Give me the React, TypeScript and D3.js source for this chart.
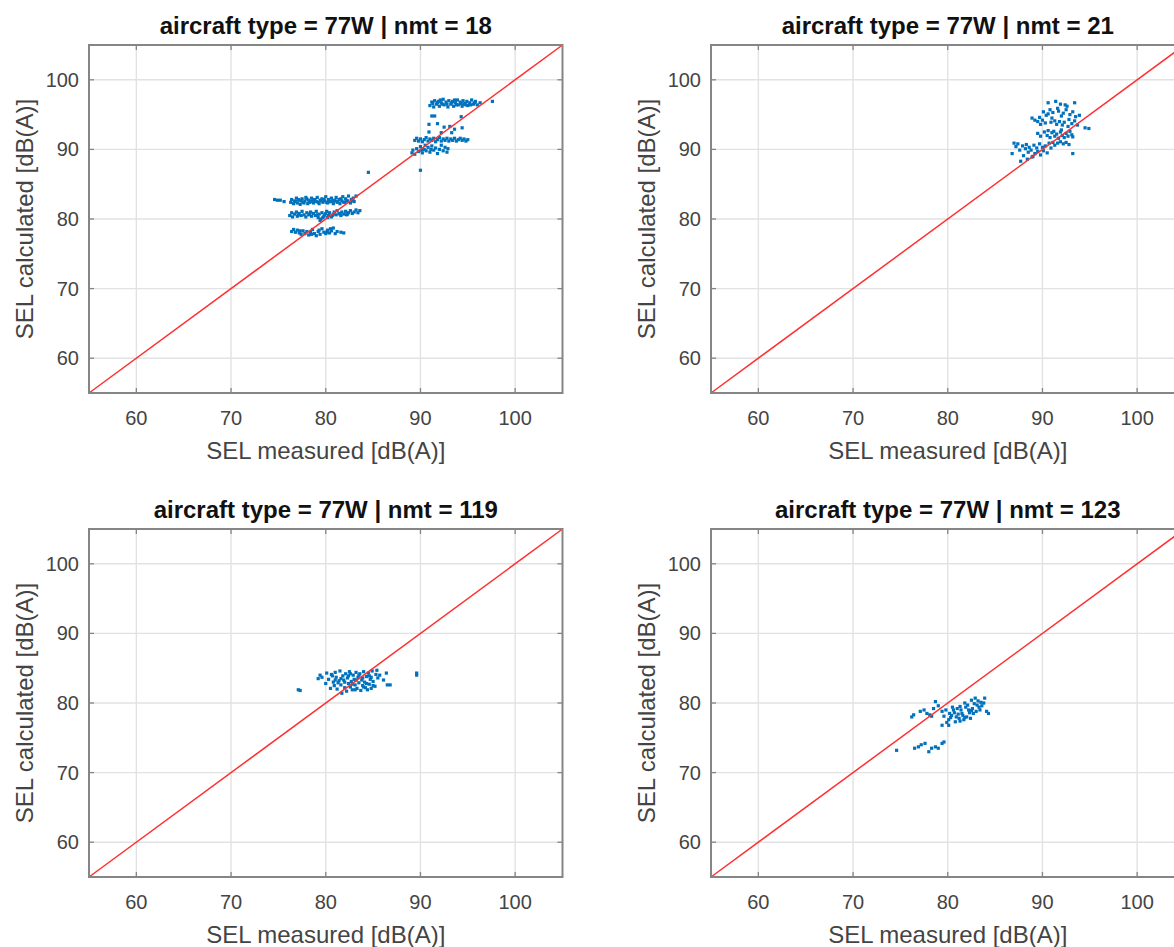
import React from "react";
import * as d3 from "d3";

type Pt = [number, number];

const panelTitles = [
  "aircraft type = 77W | nmt = 18",
  "aircraft type = 77W | nmt = 21",
  "aircraft type = 77W | nmt = 119",
  "aircraft type = 77W | nmt = 123",
];
const xLabel = "SEL measured [dB(A)]";
const yLabel = "SEL calculated [dB(A)]";
const axisDomain: [number, number] = [55, 105];
const tickValues = [60, 70, 80, 90, 100];

const nmt18Points: Pt[] = [
  [74.6, 82.8], [74.9, 82.7], [75.2, 82.7], [75.6, 82.5],
  [76.3, 82.4], [76.4, 82.8], [76.6, 82.2], [76.7, 82.6], [76.9, 83.0], [77.0, 82.3], [77.2, 82.7], [77.3, 82.1],
  [77.5, 82.9], [77.6, 82.4], [77.8, 82.6], [77.9, 83.1], [78.1, 82.2], [78.2, 82.7], [78.4, 82.5], [78.5, 83.0],
  [78.7, 82.3], [78.8, 82.8], [79.0, 82.5], [79.1, 83.1], [79.3, 82.2], [79.4, 82.7], [79.6, 82.9], [79.7, 82.4],
  [79.9, 82.6], [80.0, 83.2], [80.2, 82.3], [80.3, 82.8], [80.5, 82.5], [80.6, 83.0], [80.8, 82.2], [80.9, 82.7],
  [81.1, 83.1], [81.2, 82.4], [81.4, 82.8], [81.5, 82.2], [81.7, 82.6], [81.8, 83.2], [82.0, 82.4], [82.1, 82.9],
  [82.3, 82.6], [82.4, 83.3], [82.6, 82.3], [82.7, 82.8], [82.9, 83.0], [83.0, 82.5], [83.2, 83.3],
  [76.8, 82.5], [77.4, 82.6], [78.0, 82.9], [78.6, 82.6], [79.2, 82.4], [79.8, 82.8], [80.4, 82.5], [81.0, 82.6],
  [81.6, 82.9], [82.2, 82.6], [82.8, 82.6], [77.1, 82.8], [78.3, 82.4], [79.5, 82.6], [80.7, 82.6], [81.3, 82.5],
  [81.9, 82.4], [80.1, 82.4], [78.9, 82.6], [77.7, 82.3],
  [76.2, 80.5], [76.4, 80.9], [76.5, 80.3], [76.7, 80.7], [76.9, 81.0], [77.0, 80.4], [77.2, 80.8], [77.4, 80.5],
  [77.5, 81.1], [77.7, 80.6], [77.9, 80.3], [78.0, 80.9], [78.2, 80.6], [78.4, 81.0], [78.5, 80.4], [78.7, 80.8],
  [78.9, 80.5], [79.0, 81.1], [79.2, 80.2], [79.3, 80.7], [79.5, 80.0], [79.6, 80.9], [79.8, 80.4], [80.0, 80.8],
  [80.1, 81.1], [80.3, 80.5], [80.4, 80.9], [80.6, 80.3], [80.8, 80.7], [80.9, 81.0], [81.1, 80.6], [81.2, 81.2],
  [81.4, 80.8], [81.6, 80.5], [81.7, 81.0], [81.9, 80.7], [82.1, 81.1], [82.2, 80.6], [82.4, 80.9], [82.6, 81.2],
  [82.8, 80.8], [83.0, 81.0], [83.2, 81.3], [83.4, 80.9], [83.6, 81.2],
  [77.1, 80.6], [78.3, 80.7], [79.1, 80.6], [79.9, 80.6], [80.7, 80.5], [81.5, 80.7], [82.3, 80.7], [79.4, 79.8],
  [79.7, 80.2], [80.2, 80.2],
  [76.4, 78.2], [76.6, 78.5], [76.8, 78.1], [77.0, 78.4], [77.2, 78.0], [77.4, 77.8], [77.6, 78.3], [77.8, 77.9],
  [78.0, 78.2], [78.2, 77.7], [78.4, 78.1], [78.6, 78.5], [78.8, 77.9], [79.0, 77.6], [79.2, 78.2], [79.4, 77.8],
  [79.6, 78.6], [79.8, 78.1], [80.0, 77.9], [80.2, 78.4], [80.4, 78.0], [80.6, 78.3], [80.8, 78.7], [81.0, 77.9],
  [81.2, 78.2], [81.6, 78.1], [81.9, 78.0], [78.5, 77.8], [79.3, 78.4], [80.1, 78.1], [80.5, 78.6], [77.3, 78.3],
  [84.5, 86.7],
  [91.0, 96.3], [91.2, 96.8], [91.4, 96.1], [91.5, 97.0], [91.7, 96.5], [91.9, 96.9], [92.0, 96.2], [92.2, 96.7],
  [92.4, 97.2], [92.5, 96.4], [92.7, 96.8], [92.9, 96.1], [93.0, 97.0], [93.2, 96.5], [93.4, 96.9], [93.5, 96.2],
  [93.7, 96.7], [93.9, 97.1], [94.0, 96.4], [94.2, 96.8], [94.4, 96.2], [94.5, 97.0], [94.7, 96.6], [94.9, 96.9],
  [95.0, 96.3], [95.2, 96.7], [95.4, 97.1], [95.6, 96.5], [95.8, 96.9], [96.0, 96.4], [96.3, 96.7],
  [91.3, 96.6], [91.8, 96.7], [92.3, 96.5], [92.8, 96.5], [93.3, 96.7], [93.8, 96.4], [94.3, 96.6], [94.8, 96.4],
  [95.3, 96.4], [95.7, 96.7], [92.1, 97.1], [93.6, 97.1], [94.6, 96.5], [97.6, 96.9],
  [91.2, 94.8], [91.5, 94.8], [94.3, 94.7], [90.9, 93.6], [91.8, 93.7], [92.5, 93.2], [93.1, 93.3], [93.6, 92.9],
  [94.4, 93.1], [90.9, 92.5], [92.2, 92.4], [93.3, 92.4],
  [89.4, 91.3], [89.6, 91.6], [89.8, 91.2], [90.0, 91.5], [90.2, 91.1], [90.4, 91.4], [90.6, 91.7], [90.8, 91.2],
  [91.0, 91.5], [91.2, 91.3], [91.4, 91.6], [91.6, 91.1], [91.8, 91.4], [92.0, 91.7], [92.2, 91.2], [92.4, 91.5],
  [92.6, 91.3], [92.8, 91.6], [93.0, 91.2], [93.2, 91.5], [93.4, 91.3], [93.6, 91.6], [93.8, 91.2], [94.0, 91.4],
  [94.2, 91.6], [94.4, 91.3], [94.6, 91.5], [94.8, 91.2], [95.0, 91.4],
  [89.1, 89.5], [89.2, 89.9], [89.4, 89.3], [89.6, 90.1], [89.8, 89.7], [90.0, 90.4], [90.2, 89.5], [90.4, 90.0],
  [90.6, 89.8], [90.8, 90.3], [91.0, 89.6], [91.2, 90.5], [91.4, 89.9], [91.6, 90.2], [91.8, 89.4], [92.0, 90.0],
  [92.2, 90.6], [92.4, 89.8], [92.6, 90.3], [92.8, 89.6], [92.9, 90.1], [90.1, 89.9], [91.1, 90.0], [90.5, 90.6],
  [90.0, 87.0],
];

const nmt21Points: Pt[] = [
  [90.6, 96.7], [91.4, 96.9], [92.4, 96.4], [93.4, 96.7], [91.9, 96.5],
  [88.9, 94.5], [89.2, 94.2], [89.5, 94.0], [89.7, 94.6], [90.1, 95.4], [90.3, 93.8], [90.4, 94.9], [90.6, 95.1],
  [90.8, 95.7], [91.0, 94.5], [91.1, 95.3], [91.3, 94.1], [91.6, 95.9], [91.7, 95.5], [91.8, 94.0], [92.0, 94.8],
  [92.2, 95.2], [92.3, 93.9], [92.5, 95.7], [92.6, 96.2], [92.8, 94.3], [92.9, 95.0], [93.1, 93.7], [93.2, 95.4],
  [93.4, 94.1], [93.5, 94.7], [93.7, 93.5], [93.9, 94.9], [94.5, 93.1], [94.9, 93.0], [90.9, 93.9], [91.5, 93.6],
  [92.1, 93.5], [92.7, 93.3], [90.0, 94.2], [89.8, 93.6],
  [89.5, 92.3], [89.8, 91.9], [90.2, 92.5], [90.5, 92.0], [90.8, 91.7], [91.0, 92.4], [91.3, 91.9], [91.5, 92.2],
  [91.7, 91.6], [91.9, 92.5], [92.1, 92.0], [92.3, 91.7], [92.5, 92.3], [92.7, 91.9], [92.9, 92.6], [93.1, 92.1],
  [93.2, 91.8], [91.2, 92.6], [92.0, 92.8], [90.6, 92.7],
  [86.8, 89.4], [87.0, 90.9], [87.2, 90.4], [87.4, 90.8], [87.6, 89.9], [87.7, 88.3], [87.9, 90.5], [88.0, 89.1],
  [88.2, 90.1], [88.3, 90.7], [88.5, 89.6], [88.6, 90.3], [88.8, 89.9], [88.9, 88.9], [89.1, 90.6], [89.2, 89.4],
  [89.4, 90.2], [89.5, 89.7], [89.7, 90.8], [89.8, 89.2], [90.0, 90.3], [90.1, 89.8], [90.3, 90.5], [90.5, 89.5],
  [90.7, 90.9], [90.9, 90.2], [91.1, 91.0], [91.3, 90.6], [91.6, 90.9], [91.9, 91.1], [92.2, 90.8], [92.5, 91.0],
  [92.8, 90.7], [93.2, 89.4], [88.4, 88.6], [89.0, 89.0],
];

const nmt119Points: Pt[] = [
  [79.2, 83.5], [79.4, 84.0], [79.6, 83.7], [80.1, 84.3], [80.0, 82.8], [80.3, 83.4], [80.5, 82.1], [80.6, 84.1],
  [80.8, 83.0], [80.9, 82.5], [81.0, 84.4], [81.1, 83.7], [81.2, 82.0], [81.4, 83.2], [81.5, 84.6], [81.6, 82.6],
  [81.7, 81.4], [81.8, 83.9], [81.9, 83.3], [82.0, 82.2], [82.1, 84.2], [82.2, 81.7], [82.3, 83.6], [82.4, 82.8],
  [82.5, 84.5], [82.6, 82.3], [82.7, 83.1], [82.8, 81.9], [82.9, 84.0], [83.0, 83.4], [83.1, 82.6], [83.2, 84.4],
  [83.3, 82.1], [83.4, 83.7], [83.5, 82.9], [83.6, 84.2], [83.7, 81.8], [83.8, 83.3], [83.9, 82.5], [84.0, 84.5],
  [84.1, 83.0], [84.2, 82.2], [84.3, 83.8], [84.4, 81.9], [84.5, 84.3], [84.6, 82.7], [84.7, 83.4], [84.8, 82.1],
  [84.9, 84.6], [85.0, 83.1], [85.2, 82.4], [85.4, 84.7], [85.5, 83.6], [85.7, 84.0], [86.1, 83.3], [86.4, 84.3],
  [86.8, 82.6], [86.5, 82.6],
  [81.3, 82.9], [81.6, 83.5], [82.0, 83.0], [82.4, 83.9], [82.8, 82.7], [83.2, 83.3], [83.5, 84.0], [83.9, 83.6],
  [84.3, 82.8], [84.6, 83.9], [85.0, 82.5], [81.0, 83.3], [80.7, 83.9], [82.6, 84.2], [83.1, 81.9], [84.0, 82.3],
  [84.8, 83.7], [85.3, 84.1],
  [77.1, 81.9], [77.3, 81.8], [89.6, 84.3], [89.6, 84.0],
];

const nmt123Points: Pt[] = [
  [74.6, 73.2], [76.5, 73.5], [76.9, 73.7], [77.2, 74.0], [77.6, 74.2], [78.0, 73.0], [78.3, 73.5], [78.7, 73.7],
  [79.0, 73.5], [79.4, 74.2], [79.6, 74.4],
  [76.2, 78.0], [76.4, 78.3], [77.1, 78.8], [77.8, 78.5], [78.1, 78.3], [78.7, 80.2], [78.5, 79.2], [79.4, 78.8],
  [79.4, 76.8], [80.1, 77.6], [80.1, 76.8], [80.2, 78.5], [80.6, 79.0], [80.9, 78.0], [81.3, 79.5], [81.5, 78.5],
  [81.7, 77.6], [81.8, 80.0], [82.2, 79.0], [82.5, 80.4], [82.7, 78.5], [82.9, 80.7], [83.1, 79.7], [83.4, 79.0],
  [83.9, 80.7], [84.1, 78.8], [84.3, 78.5], [83.8, 80.0], [82.4, 77.8],
  [80.4, 78.2], [80.7, 78.6], [80.8, 77.3], [81.0, 79.2], [81.1, 78.4], [81.2, 77.8], [81.4, 79.0], [81.6, 78.2],
  [81.9, 79.4], [82.0, 78.0], [82.1, 79.7], [82.3, 78.6], [82.6, 79.2], [82.8, 79.9], [83.0, 78.8], [83.2, 80.3],
  [83.3, 79.4], [83.5, 80.1], [83.6, 79.6], [82.5, 78.9], [81.8, 77.9], [80.5, 79.4], [79.8, 79.0], [79.6, 78.1],
  [79.0, 79.6], [78.3, 78.1], [77.5, 79.0], [79.9, 77.2], [80.3, 77.9], [81.3, 77.4],
];

const panelPoints: Pt[][] = [nmt18Points, nmt21Points, nmt119Points, nmt123Points];

const FONT = "'Liberation Sans', Arial, Helvetica, sans-serif";
const PW = 473.5;
const PH = 348;
const origins = [
  { left: 89, top: 45 },
  { left: 711, top: 45 },
  { left: 89, top: 529 },
  { left: 711, top: 529 },
];

function Panel({ idx }: { idx: number }) {
  const { left, top } = origins[idx];
  const x = d3.scaleLinear().domain(axisDomain).range([left, left + PW]);
  const y = d3.scaleLinear().domain(axisDomain).range([top + PH, top]);
  const pts = panelPoints[idx];
  const line = d3.line<Pt>().x((d) => x(d[0])).y((d) => y(d[1]));
  const diag: Pt[] = [[axisDomain[0], axisDomain[0]], [axisDomain[1], axisDomain[1]]];
  const tl = 5;
  const axisColor = "#858585";
  const ms = 3.2;
  return (
    <g>
      <rect x={left} y={top} width={PW} height={PH} fill="#fff" />
      {tickValues.map((t) => (
        <g key={"g" + t}>
          <line x1={x(t)} x2={x(t)} y1={top} y2={top + PH} stroke="#e2e2e2" strokeWidth={1.4} />
          <line x1={left} x2={left + PW} y1={y(t)} y2={y(t)} stroke="#e2e2e2" strokeWidth={1.4} />
        </g>
      ))}
      {pts.map((p, i) => (
        <rect key={i} x={x(p[0]) - ms / 2} y={y(p[1]) - ms / 2} width={ms} height={ms} fill="#0072BD" />
      ))}
      <path d={line(diag) || ""} stroke="#ff3030" strokeWidth={1.5} fill="none" />
      {tickValues.map((t) => (
        <g key={"t" + t} stroke={axisColor} strokeWidth={1.3}>
          <line x1={x(t)} x2={x(t)} y1={top + PH} y2={top + PH - tl} />
          <line x1={x(t)} x2={x(t)} y1={top} y2={top + tl} />
          <line x1={left} x2={left + tl} y1={y(t)} y2={y(t)} />
          <line x1={left + PW} x2={left + PW - tl} y1={y(t)} y2={y(t)} />
        </g>
      ))}
      <rect x={left} y={top} width={PW} height={PH} fill="none" stroke={axisColor} strokeWidth={2} />
      {tickValues.map((t) => (
        <text key={"xl" + t} x={x(t)} y={top + PH + 32} textAnchor="middle" fontSize={20} fill="#444" fontFamily={FONT}>
          {t}
        </text>
      ))}
      {tickValues.map((t) => (
        <text key={"yl" + t} x={left - 10} y={y(t) + 7} textAnchor="end" fontSize={20} fill="#444" fontFamily={FONT}>
          {t}
        </text>
      ))}
      <text x={left + PW / 2} y={top + PH + 66} textAnchor="middle" fontSize={24} fill="#444" fontFamily={FONT}>
        {xLabel}
      </text>
      <text
        transform={`translate(${left - 56},${top + PH / 2}) rotate(-90)`}
        textAnchor="middle"
        fontSize={24}
        fill="#444"
        fontFamily={FONT}
      >
        {yLabel}
      </text>
      <text x={left + PW / 2} y={top - 11} textAnchor="middle" fontSize={24} fontWeight="bold" fill="#111" fontFamily={FONT}>
        {panelTitles[idx]}
      </text>
    </g>
  );
}

export default function App() {
  return (
    <svg
      width={1174}
      height={947}
      style={{ position: "absolute", left: 0, top: 0, background: "#fff" }}
    >
      <rect x={0} y={0} width={1174} height={947} fill="#fff" />
      {[0, 1, 2, 3].map((i) => (
        <Panel key={i} idx={i} />
      ))}
    </svg>
  );
}
